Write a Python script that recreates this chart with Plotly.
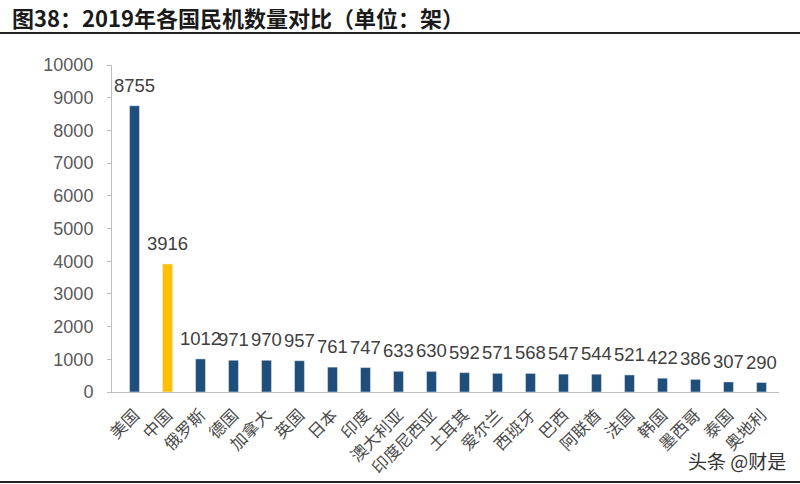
import plotly.graph_objects as go

countries = ["美国", "中国", "俄罗斯", "德国", "加拿大", "英国", "日本", "印度", "澳大利亚", "印度尼西亚",
             "土耳其", "爱尔兰", "西班牙", "巴西", "阿联酋", "法国", "韩国", "墨西哥", "泰国", "奥地利"]
values = [8755, 3916, 1012, 971, 970, 957, 761, 747, 633, 630,
          592, 571, 568, 547, 544, 521, 422, 386, 307, 290]
highlight = "中国"

NAVY = "#1F4E79"
GOLD = "#FFC000"
colors = [GOLD if c == highlight else NAVY for c in countries]

fig = go.Figure(go.Bar(
    x=countries, y=values, marker_color=colors, width=0.3,
))

W, H = 800, 484
ml, mr, mt, mb = 112, 21, 65, 92
pw, ph = W - ml - mr, H - mt - mb

def px(x):
    return (x - ml) / pw

def py(y):
    return (H - mb - y) / ph

value_labels = [
    dict(x=c, y=v, xref="x", yref="y", text=str(v), showarrow=False,
         xanchor="center", yanchor="bottom", yshift=8,
         font=dict(family="Liberation Sans, Arial", size=18.5, color="#404040"))
    for c, v in zip(countries, values)
]

fig.update_layout(
    width=W, height=H, margin=dict(l=ml, r=mr, t=mt, b=mb, autoexpand=False),
    paper_bgcolor="white", plot_bgcolor="white", showlegend=False,
    xaxis=dict(showline=True, linecolor="#BFBFBF", linewidth=1, ticks="",
               tickangle=-45, ticklabelstandoff=6, automargin=False,
               tickfont=dict(family="Noto Sans CJK SC", size=16.5, color="#4a4a4a")),
    yaxis=dict(range=[0, 10000], dtick=1000, tickformat="d", showgrid=False, zeroline=False,
               showline=True, linecolor="#BFBFBF", linewidth=1, automargin=False,
               ticks="outside", ticklen=4, tickcolor="#BFBFBF", ticklabelstandoff=10,
               tickfont=dict(family="Liberation Sans, Arial", size=18, color="#595959")),
    shapes=[
        dict(type="line", xref="paper", yref="paper", x0=px(0), x1=px(800), y0=py(33), y1=py(33),
             line=dict(color="#222222", width=2)),
        dict(type="line", xref="paper", yref="paper", x0=px(0), x1=px(800), y0=py(482), y1=py(482),
             line=dict(color="#222222", width=2)),
    ],
    annotations=value_labels + [
        dict(xref="paper", yref="paper", x=px(10), y=py(17), xanchor="left", yanchor="middle",
             text="<b>图38：2019年各国民机数量对比（单位：架）</b>", showarrow=False,
             font=dict(family="Noto Sans CJK SC", size=22, color="#1a1a1a")),
        dict(xref="paper", yref="paper", x=px(788), y=py(460), xanchor="right", yanchor="middle",
             text="头条 @财是", showarrow=False,
             font=dict(family="Noto Sans CJK SC", size=19, color="#333333")),
    ],
)

fig.write_html("out.html")
